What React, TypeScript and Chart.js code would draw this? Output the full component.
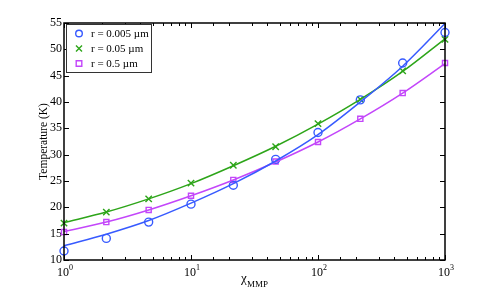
import React, { useEffect, useRef } from "react";
import { Chart, registerables } from "chart.js";

Chart.register(...registerables);

const xValues = [1, 2.154, 4.642, 10, 21.54, 46.42, 100, 215.4, 464.2, 1000];

const blueMarkers = [11.7, 14.1, 17.2, 20.6, 24.2, 29.1, 34.2, 40.4, 47.4, 53.2];
const greenMarkers = [17.0, 19.1, 21.6, 24.6, 28.0, 31.5, 35.9, 40.5, 45.9, 51.9];
const magentaMarkers = [15.3, 17.2, 19.5, 22.2, 25.2, 28.7, 32.4, 36.8, 41.7, 47.4];

const blueFit = [12.7, 14.9, 17.5, 20.8, 24.5, 28.8, 33.8, 40.0, 46.8, 54.9];
const greenFit = [17.1, 19.1, 21.6, 24.5, 27.9, 31.6, 35.8, 40.5, 45.8, 52.0];
const magentaFit = [15.4, 17.2, 19.5, 22.2, 25.2, 28.6, 32.4, 36.8, 41.7, 47.3];

const seriesLabels = ["r = 0.005 \u00b5m", "r = 0.05 \u00b5m", "r = 0.5 \u00b5m"];
const yTitle = "Temperature (K)";
const xTitleMain = "\u03c7";
const xTitleSub = "MMP";

const BLUE = "rgb(55,90,255)";
const GREEN = "rgb(45,165,25)";
const MAGENTA = "rgb(195,70,250)";
const FONT = "'Liberation Serif', 'DejaVu Serif', serif";

const toPts = (ys: number[]) => xValues.map((x, i) => ({ x, y: ys[i] }));

const markerStyles = [
  { color: BLUE, style: "circle", radius: 4 },
  { color: GREEN, style: "crossRot", radius: 4.5 },
  { color: MAGENTA, style: "rect", radius: 3.6 },
];

const framePlugin = {
  id: "framePlugin",
  afterDraw(chart: any) {
    const { ctx, chartArea, scales } = chart;
    const { left, right, top, bottom } = chartArea;
    const xs = scales.x;
    const ys = scales.y;
    ctx.save();
    ctx.strokeStyle = "#000";
    ctx.lineWidth = 1;
    for (const t of xs.ticks) {
      const v = t.value;
      if (v < 1 || v > 1000) continue;
      const lg = Math.log10(v);
      const major = Math.abs(lg - Math.round(lg)) < 1e-6;
      const len = major ? 5 : 3;
      const px = Math.round(xs.getPixelForValue(v)) + 0.5;
      ctx.beginPath();
      ctx.moveTo(px, bottom);
      ctx.lineTo(px, bottom - len);
      ctx.moveTo(px, top);
      ctx.lineTo(px, top + len);
      ctx.stroke();
    }
    for (const t of ys.ticks) {
      const py = Math.round(ys.getPixelForValue(t.value)) + 0.5;
      ctx.beginPath();
      ctx.moveTo(left, py);
      ctx.lineTo(left + 5, py);
      ctx.moveTo(right, py);
      ctx.lineTo(right - 5, py);
      ctx.stroke();
    }
    ctx.lineWidth = 1.5;
    ctx.strokeRect(left, top, right - left, bottom - top);

    ctx.fillStyle = "#000";
    ctx.textBaseline = "alphabetic";
    for (const t of xs.ticks) {
      const v = t.value;
      const lg = Math.log10(v);
      if (Math.abs(lg - Math.round(lg)) > 1e-6) continue;
      const e = String(Math.round(lg));
      ctx.font = `12px ${FONT}`;
      const w1 = ctx.measureText("10").width;
      ctx.font = `8px ${FONT}`;
      const w2 = ctx.measureText(e).width;
      const px = xs.getPixelForValue(v);
      const x0 = px - (w1 + w2) / 2 + 1;
      ctx.font = `12px ${FONT}`;
      ctx.textAlign = "left";
      ctx.fillText("10", x0, 276);
      ctx.font = `8px ${FONT}`;
      ctx.fillText(e, x0 + w1, 269.5);
    }

    ctx.font = `13px ${FONT}`;
    ctx.textAlign = "left";
    const wc = ctx.measureText(xTitleMain).width;
    ctx.font = `9px ${FONT}`;
    const ws = ctx.measureText(xTitleSub).width;
    const cx = (left + right) / 2;
    const tx = cx - (wc + ws) / 2;
    ctx.font = `13px ${FONT}`;
    ctx.fillText(xTitleMain, tx, 282);
    ctx.font = `9px ${FONT}`;
    ctx.fillText(xTitleSub, tx + wc, 287);

    ctx.save();
    ctx.translate(44, (top + bottom) / 2);
    ctx.rotate(-Math.PI / 2);
    ctx.font = `11.5px ${FONT}`;
    ctx.textAlign = "center";
    ctx.textBaseline = "middle";
    ctx.fillText(yTitle, 0, 0);
    ctx.restore();

    const bx = 66.5, by = 24.5, bw = 85, bh = 48;
    ctx.fillStyle = "#fff";
    ctx.fillRect(bx, by, bw, bh);
    ctx.lineWidth = 1;
    ctx.strokeStyle = "#333";
    ctx.strokeRect(bx, by, bw, bh);
    const rows = [33.5, 48.5, 63.5];
    rows.forEach((ry, i) => {
      const m = markerStyles[i];
      ctx.strokeStyle = m.color;
      ctx.lineWidth = 1.4;
      const mx = 79;
      ctx.beginPath();
      if (m.style === "circle") {
        ctx.arc(mx, ry, 3.3, 0, Math.PI * 2);
      } else if (m.style === "crossRot") {
        ctx.moveTo(mx - 3, ry - 3);
        ctx.lineTo(mx + 3, ry + 3);
        ctx.moveTo(mx + 3, ry - 3);
        ctx.lineTo(mx - 3, ry + 3);
      } else {
        ctx.rect(mx - 2.8, ry - 2.8, 5.6, 5.6);
      }
      ctx.stroke();
      ctx.fillStyle = "#000";
      ctx.font = `11px ${FONT}`;
      ctx.textAlign = "left";
      ctx.textBaseline = "middle";
      ctx.fillText(seriesLabels[i], 91, ry + 0.5);
    });
    ctx.restore();
  },
};

export default function App() {
  const ref = useRef<HTMLCanvasElement | null>(null);
  useEffect(() => {
    if (!ref.current) return;
    const fits = [blueFit, greenFit, magentaFit];
    const markers = [blueMarkers, greenMarkers, magentaMarkers];
    const datasets: any[] = [];
    fits.forEach((f, i) => {
      datasets.push({
        type: "line",
        label: seriesLabels[i] + " fit",
        data: toPts(f),
        borderColor: markerStyles[i].color,
        borderWidth: 1.5,
        pointRadius: 0,
        fill: false,
        cubicInterpolationMode: "monotone",
        clip: false,
      });
    });
    markers.forEach((mk, i) => {
      datasets.push({
        type: "scatter",
        label: seriesLabels[i],
        data: toPts(mk),
        borderColor: markerStyles[i].color,
        backgroundColor: "rgba(0,0,0,0)",
        pointStyle: markerStyles[i].style,
        pointRadius: markerStyles[i].radius,
        pointBorderWidth: 1.4,
        showLine: false,
        clip: false,
      });
    });
    const chart = new Chart(ref.current, {
      type: "scatter",
      data: { datasets },
      options: {
        animation: false,
        responsive: false,
        events: [],
        layout: { padding: { left: 0, right: 46, top: 23, bottom: 0 } },
        plugins: { legend: { display: false }, tooltip: { enabled: false } },
        scales: {
          x: {
            type: "logarithmic",
            min: 1,
            max: 1000,
            grid: { display: false, drawTicks: false },
            border: { display: false },
            ticks: { display: false },
            afterFit: (s: any) => {
              s.height = 34;
            },
          },
          y: {
            type: "linear",
            min: 10,
            max: 55,
            grid: { display: false, drawTicks: false },
            border: { display: false },
            ticks: {
              stepSize: 5,
              color: "#000",
              padding: 2,
              font: { family: FONT, size: 12 },
            },
            afterFit: (s: any) => {
              s.width = 64;
            },
          },
        },
      } as any,
      plugins: [framePlugin],
    });
    return () => chart.destroy();
  }, []);
  return (
    <div style={{ position: "fixed", left: 0, top: 0, width: 491, height: 294, background: "#fff" }}>
      <canvas ref={ref} width={491} height={294} style={{ width: 491, height: 294 }} />
    </div>
  );
}
